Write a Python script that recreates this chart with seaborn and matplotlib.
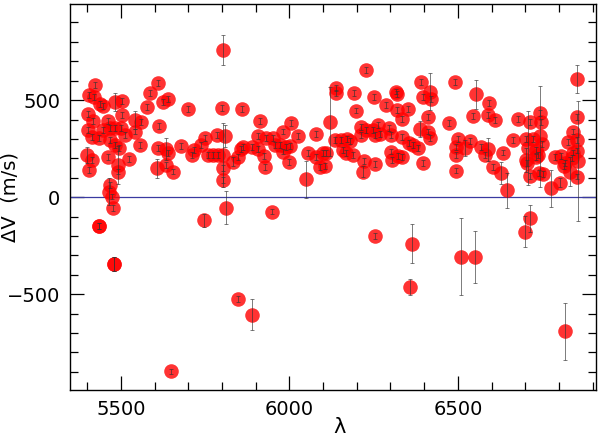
import matplotlib
matplotlib.use("Agg")
import matplotlib.pyplot as plt
from matplotlib.ticker import MultipleLocator
import numpy as np
import pandas as pd
import seaborn as sns

# wavelength (A), velocity offset (m/s), error (m/s)
wavelength = [
    5423, 5406, 5420, 5438, 5448, 5482, 5502, 5504, 5403, 5416,
    5403, 5413, 5462, 5448, 5467, 5482, 5499, 5512, 5436, 5467,
    5482, 5495, 5542, 5561, 5542, 5558, 5576, 5586, 5611, 5398,
    5413, 5406, 5462, 5492, 5492, 5525, 5467, 5465, 5475, 5477,
    5436, 5480, 5612, 5611, 5606,
    5625, 5640, 5698, 5799, 5858, 5635, 5640, 5635, 5655, 5678,
    5710, 5717, 5739, 5751, 5759, 5774, 5789, 5784, 5810, 5803,
    5803, 5833, 5848, 5856, 5813, 5747, 5803, 5803,
    5914, 6005, 5981, 6026, 6078, 5907, 5932, 5952, 5863, 5888,
    5907, 5924, 5927, 5957, 5971, 5991, 6001, 5981, 5999, 6054,
    6080, 6100, 6090, 6105, 6048, 5947,
    6228, 6137, 6137, 6192, 6251, 6315, 6318, 6199, 6287, 6320,
    6352, 6334, 6214, 6214, 6228, 6248, 6263, 6268, 6253, 6297,
    6302, 6135, 6154, 6172, 6179, 6159, 6169, 6189, 6110, 6221,
    6218, 6253, 6303, 6322, 6333, 6306, 6333, 6355, 6120,
    6392, 6418, 6421, 6398, 6493, 6555, 6592, 6411, 6545, 6589,
    6609, 6475, 6389, 6411, 6418, 6367, 6382, 6500, 6495, 6520,
    6535, 6495, 6570, 6589, 6580, 6398, 6495, 6603, 6628, 6635,
    6646,
    6853, 6853, 6678, 6713, 6744, 6747, 6663, 6701, 6723, 6751,
    6709, 6733, 6738, 6701, 6841, 6826, 6855, 6855, 6841, 6787,
    6806, 6816, 6833, 6855, 6858, 6713, 6742, 6752, 6776, 6803,
    6704, 6733, 6840, 6819, 6745,
    5436, 5480, 5650, 5848, 5890, 6253, 6365, 6357, 6510, 6550,
    6698, 6715, 6819,
]
delta_v = [
    578, 526, 515, 479, 470, 490, 497, 424, 429, 394,
    346, 309, 394, 346, 355, 358, 355, 321, 304, 295,
    269, 252, 398, 389, 338, 269, 466, 535, 587, 218,
    192, 141, 209, 166, 132, 196, 63, 29, 3, -57,
    -148, -345, 367, 252, 149,
    492, 504, 453, 458, 453, 248, 226, 166, 132, 264,
    218, 243, 269, 304, 218, 218, 218, 321, 315, 149,
    89, 183, 209, 247, -55, -120, 758, 215,
    394, 381, 338, 316, 326, 316, 304, 304, 257, 257,
    247, 213, 157, 269, 269, 260, 264, 235, 183, 226,
    209, 226, 157, 161, 93, -74,
    655, 561, 535, 538, 518, 544, 530, 446, 475, 449,
    453, 401, 363, 321, 346, 346, 372, 326, 321, 355,
    321, 295, 295, 299, 291, 243, 226, 218, 226, 188,
    132, 171, 235, 213, 209, 192, 309, 278, 389,
    595, 544, 504, 515, 592, 530, 484, 412, 418, 424,
    398, 384, 350, 338, 304, 269, 252, 299, 257, 252,
    291, 218, 260, 247, 218, 175, 137, 157, 124, 230,
    35,
    607, 415, 401, 388, 435, 389, 295, 299, 299, 274,
    252, 243, 218, 192, 338, 286, 295, 240, 230, 209,
    213, 161, 132, 106, 187, 110, 124, 120, 46, 75,
    177, 206, 201, 175, 313,
    -148, -345, -898, -523, -606, -198, -240, -463, -306, -309,
    -177, -108, -692,
]
error = [
    15, 15, 15, 15, 15, 45, 15, 15, 15, 15,
    15, 15, 15, 15, 15, 15, 15, 15, 15, 15,
    15, 15, 45, 15, 15, 15, 15, 15, 15, 40,
    15, 15, 15, 100, 15, 15, 15, 70, 15, 15,
    15, 35, 15, 15, 50,
    15, 15, 15, 15, 15, 55, 15, 15, 15, 15,
    15, 15, 15, 15, 15, 15, 15, 15, 55, 15,
    15, 25, 15, 15, 85, 35, 75, 165,
    15, 15, 15, 15, 15, 15, 15, 15, 15, 15,
    15, 15, 15, 15, 15, 15, 15, 15, 15, 15,
    15, 15, 15, 15, 95, 15,
    15, 15, 15, 15, 15, 15, 15, 15, 15, 15,
    15, 15, 15, 15, 15, 15, 15, 15, 15, 15,
    15, 15, 15, 15, 15, 15, 15, 15, 15, 15,
    30, 15, 15, 15, 15, 15, 15, 15, 178,
    15, 95, 15, 15, 15, 75, 15, 15, 15, 15,
    15, 15, 40, 15, 15, 15, 15, 15, 15, 40,
    15, 15, 15, 60, 15, 15, 15, 15, 55, 15,
    90,
    73, 15, 15, 15, 15, 15, 15, 15, 15, 15,
    190, 15, 15, 60, 15, 15, 15, 15, 15, 15,
    15, 15, 75, 15, 310, 15, 15, 15, 95, 25,
    15, 15, 15, 15, 260,
    15, 35, 15, 15, 80, 15, 100, 40, 200, 135,
    80, 70, 145,
]

df = pd.DataFrame({"wavelength": wavelength, "dv": delta_v, "err": error})

sns.set_style("ticks")
plt.rcParams["font.family"] = ["DejaVu Sans"]
plt.rcParams["text.color"] = "black"
plt.rcParams["axes.labelcolor"] = "black"

fig = plt.figure(figsize=(6.0, 4.36), dpi=100)
ax = fig.add_axes([0.1167, 0.1048, 0.8766, 0.886])

ax.axhline(0, color="#3a3aa0", lw=0.9, zorder=1)

sns.scatterplot(data=df, x="wavelength", y="dv", color="#ff0000", alpha=0.8,
                s=110, linewidth=0, marker="o", ax=ax, zorder=2, legend=False)

ax.errorbar(df["wavelength"], df["dv"], yerr=df["err"], fmt="none",
            ecolor="#333333", elinewidth=0.6, capsize=1.6, capthick=0.6,
            alpha=0.75, zorder=3)

ax.set_xlim(5349, 6910)
ax.set_ylim(-995, 995)
ax.xaxis.set_major_locator(MultipleLocator(500))
ax.xaxis.set_minor_locator(MultipleLocator(100))
ax.yaxis.set_major_locator(MultipleLocator(500))
ax.yaxis.set_minor_locator(MultipleLocator(100))
ax.tick_params(which="both", direction="in", top=True, right=True,
               width=0.9, labelsize=14, color="black", labelcolor="black")
ax.tick_params(which="major", length=10, pad=7)
ax.tick_params(which="minor", length=5.5)
ax.set_yticks([-500, 0, 500])
ax.set_yticklabels(["\u2212500", "0", "500"])
ax.set_xticks([5500, 6000, 6500])
ax.set_xticklabels(["5500", "6000", "6500"])

for spine in ax.spines.values():
    spine.set_linewidth(1.0)
    spine.set_color("black")

ax.set_xlabel("\u03bb", fontsize=15)
ax.set_ylabel("\u0394V  (m/s)", fontsize=14)
ax.xaxis.set_label_coords(0.513, -0.068)
ax.yaxis.set_label_coords(-0.097, 0.5)

fig.savefig("out.png", dpi=100)
